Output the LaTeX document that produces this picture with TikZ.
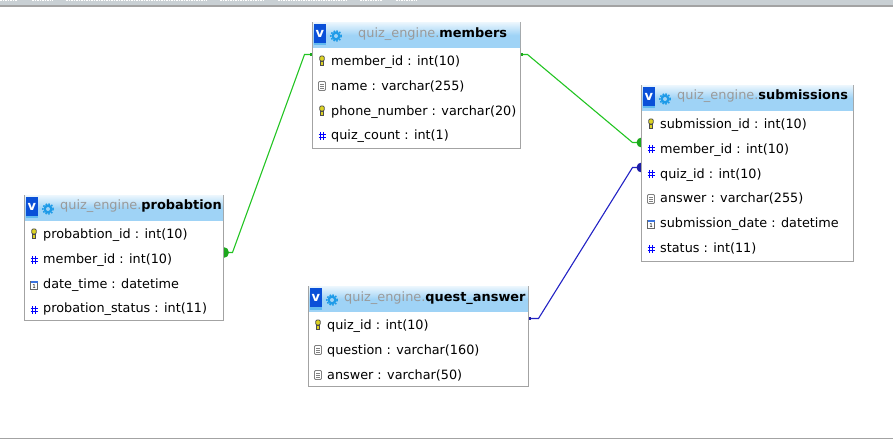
\documentclass[tikz,border=0pt]{standalone}
\usepackage{fontspec}
\setmainfont{DejaVu Sans}
\usetikzlibrary{calc, backgrounds, positioning}
\definecolor{framegray}{HTML}{A3A3A3}
\definecolor{headblue}{HTML}{9FD3F6}
\definecolor{schemagray}{HTML}{9A9A9A}
\definecolor{linkgreen}{HTML}{22C422}
\definecolor{linkblue}{HTML}{2222C4}
\definecolor{iconblue}{HTML}{0A50D8}
\definecolor{gearblue}{HTML}{1E9BE8}
\definecolor{barLight}{HTML}{C9D0D4}
\tikzset{
	tablebox/.style={draw=framegray, fill=white, line width=1pt, anchor=north west, minimum height=#1, inner sep=0pt, outer sep=0pt},
	tablehead/.style={top color=headblue!25, bottom color=headblue, middle color=headblue, minimum width=#1, minimum height=24.5pt, anchor=north, inner sep=0pt, outer sep=0pt},
	headtext/.style={anchor=west, inner sep=0pt, yshift=-1pt, font=\fontsize{12.9}{14}\selectfont},
	rowtext/.style={anchor=west, inner sep=0pt, yshift=-1.2pt, font=\fontsize{12.8}{14}\selectfont},
	linkline/.style={line width=1.1pt},
	keyicon/.pic={
		\draw[fill=yellow!85!black, draw=black!70, line width=.7pt, rounded corners=1pt] (-2.2, -5) rectangle (2.2, 0);
		\draw[fill=yellow!85!black, draw=black!70, line width=.7pt] (-1.2, 0) rectangle (1.2, 4.5);
	},
	texticon/.pic={
		\draw[fill=white, draw=gray, line width=.8pt, rounded corners=1pt] (-3.5, -4.5) rectangle (3.5, 4.5);
		\draw[gray, line width=.7pt] (-1.8, -2) -- (1.8, -2) (-1.8, 0) -- (1.8, 0) (-1.8, 2) -- (1.8, 2);
	},
	dateicon/.pic={
		\draw[fill=white, draw=black!60, line width=.8pt] (-3.5, -3.5) rectangle (3.5, 4);
		\fill[iconblue!80] (-3.5, -3.5) rectangle (3.5, -2);
		\node[inner sep=0pt, font=\fontsize{5.5}{5.5}\selectfont] at (0, 1) {1};
	},
	hashicon/.pic={
		\draw[blue, line width=1pt] (-1.5, -4) -- (-1.5, 4) (1.5, -4) -- (1.5, 4) (-3.5, -1.5) -- (3.5, -1.5) (-3.5, 1.5) -- (3.5, 1.5);
	},
	viewicon/.pic={
		\fill[iconblue] (1.5, 2) rectangle (14, 21);
		\fill[gearblue!70] (1.5, 21) rectangle (14, 23.5);
		\node[text=white, inner sep=0pt, font=\bfseries\fontsize{13}{13}\selectfont] at (7.8, 12) {v};
		\fill[gearblue] (24, 14) circle (4.6);
		\draw[gearblue, line width=1.4pt, dash pattern=on 1.6pt off 1.5pt] (24, 14) circle (5.3);
		\fill[headblue] (24, 14) circle (2);
	},
}
\newcommand{\schema}{\textcolor{schemagray}{quiz\_engine.}}
\begin{document}
\begin{tikzpicture}[x=1pt, y=-1pt]
	\useasboundingbox (0, 0) rectangle (893, 443);
	% window edges
	\fill[barLight] (0, 0) rectangle (893, 5);
	\fill[framegray] (0, 5) rectangle (893, 7);
	\draw[white, line width=1pt, dash pattern=on 1.5pt off 1pt] (0, .5) -- (17, .5) (32, .5) -- (53, .5) (66, .5) -- (207, .5) (220, .5) -- (265, .5) (278, .5) -- (347, .5) (360, .5) -- (382, .5) (396, .5) -- (417, .5);
	\fill[framegray] (0, 437.5) rectangle (893, 439);

	% members
	\node[tablebox=126pt, minimum width=208pt] (members) at (312.5, 22.5) {};
	\node[tablehead=207pt] (members_head) at ([yshift=-.5pt]members.north) {};
	\pic at (312, 22) {viewicon};
	\node[headtext] (members_title) at (358, 33) {\schema\textbf{members}};
	\node[rowtext] (members_r1) at (331, 60.5) {member\_id : int(10)};
	\node[rowtext] (members_r2) at (331, 85.5) {name : varchar(255)};
	\node[rowtext] (members_r3) at (331, 110.5) {phone\_number : varchar(20)};
	\node[rowtext] (members_r4) at (331, 135) {quiz\_count : int(1)};
	\pic at (322, 61) {keyicon};
	\pic at (322, 86) {texticon};
	\pic at (322, 111) {keyicon};
	\pic at (322, 136) {hashicon};

	% submissions
	\node[tablebox=176pt, minimum width=212pt] (submissions) at (641.5, 85.5) {};
	\node[tablehead=211pt] (submissions_head) at ([yshift=-.5pt]submissions.north) {};
	\pic at (641, 85) {viewicon};
	\node[headtext] (submissions_title) at (677, 95.5) {\schema\textbf{submissions}};
	\node[rowtext] (submissions_r1) at (660, 123.5) {submission\_id : int(10)};
	\node[rowtext] (submissions_r2) at (660, 148.5) {member\_id : int(10)};
	\node[rowtext] (submissions_r3) at (660, 173.5) {quiz\_id : int(10)};
	\node[rowtext] (submissions_r4) at (660, 197.5) {answer : varchar(255)};
	\node[rowtext] (submissions_r5) at (660, 222.5) {submission\_date : datetime};
	\node[rowtext] (submissions_r6) at (660, 247.5) {status : int(11)};
	\pic at (651, 124) {keyicon};
	\pic at (651, 149) {hashicon};
	\pic at (651, 174) {hashicon};
	\pic at (651, 199) {texticon};
	\pic at (651, 224) {dateicon};
	\pic at (651, 249) {hashicon};

	% probabtion
	\node[tablebox=125pt, minimum width=199pt] (probabtion) at (24.5, 195.5) {};
	\node[tablehead=198pt] (probabtion_head) at ([yshift=-.5pt]probabtion.north) {};
	\pic at (24, 195) {viewicon};
	\node[headtext] (probabtion_title) at (60, 205.5) {\schema\textbf{probabtion}};
	\node[rowtext] (probabtion_r1) at (43, 233.5) {probabtion\_id : int(10)};
	\node[rowtext] (probabtion_r2) at (43, 258.5) {member\_id : int(10)};
	\node[rowtext] (probabtion_r3) at (43, 283.5) {date\_time : datetime};
	\node[rowtext] (probabtion_r4) at (43, 307.5) {probation\_status : int(11)};
	\pic at (34, 234) {keyicon};
	\pic at (34, 260) {hashicon};
	\pic at (34, 285) {dateicon};
	\pic at (34, 310) {hashicon};

	% quest_answer
	\node[tablebox=100pt, minimum width=220pt] (quest_answer) at (308.5, 286.5) {};
	\node[tablehead=219pt] (quest_answer_head) at ([yshift=-.5pt]quest_answer.north) {};
	\pic at (308, 286) {viewicon};
	\node[headtext] (quest_answer_title) at (344, 297) {\schema\textbf{quest\_answer}};
	\node[rowtext] (quest_answer_r1) at (327, 324.5) {quiz\_id : int(10)};
	\node[rowtext] (quest_answer_r2) at (327, 349.5) {question : varchar(160)};
	\node[rowtext] (quest_answer_r3) at (327, 374.5) {answer : varchar(50)};
	\pic at (318, 325) {keyicon};
	\pic at (318, 350) {texticon};
	\pic at (318, 375) {texticon};

	% links, under the tables
	\coordinate (link_a) at ([yshift=-32pt]members.north west);
	\coordinate (link_b) at ([yshift=-57pt]probabtion.north east);
	\coordinate (link_c) at ([yshift=-32pt]members.north east);
	\coordinate (link_d) at ([yshift=-57pt]submissions.north west);
	\coordinate (link_e) at ([yshift=-32pt]quest_answer.north east);
	\coordinate (link_f) at ([yshift=-82pt]submissions.north west);
	\begin{scope}[on background layer]
		\draw[linkline, linkgreen] (link_a) -- ++(-8, 0) -- ($(link_b)+(9, 0)$) -- (link_b);
		\draw[linkline, linkgreen] (link_c) -- ++(7, 0) -- ($(link_d)+(-9, 0)$) -- (link_d);
		\draw[linkline, linkblue] (link_e) -- ++(10, 0) -- ($(link_f)+(-9, 0)$) -- (link_f);
		\fill[linkgreen!85!black] (link_b) circle (5.5);
		\fill[linkgreen!85!black] (link_d) circle (5);
		\fill[linkblue!85!black] (link_f) circle (5);
		\fill[linkgreen!85!black] (link_a) ++(-2.5, -1.5) rectangle ++(2.5, 3);
		\fill[linkgreen!85!black] (link_c) ++(0, -1.5) rectangle ++(2.5, 3);
		\fill[linkblue!85!black] (link_e) ++(0, -1.5) rectangle ++(2.5, 3);
	\end{scope}
\end{tikzpicture}
\end{document}
